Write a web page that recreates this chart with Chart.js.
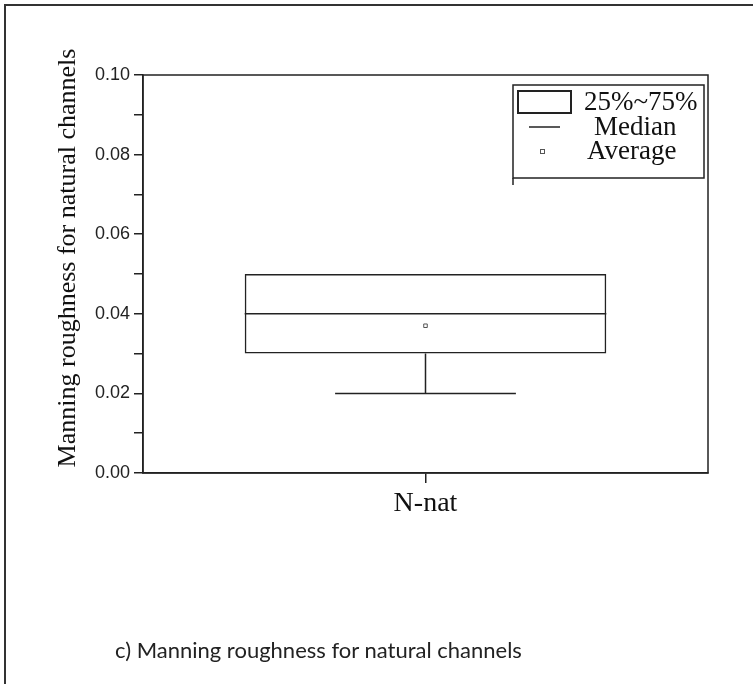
<!DOCTYPE html>
<html>
<head>
<meta charset="utf-8">
<script src="https://cdn.jsdelivr.net/npm/chart.js@4"></script>
<style>
  body { margin: 0; background: #fff; }
  #wrap { position: relative; width: 753px; height: 684px; }
  #frame { position: absolute; left: 4px; top: 4px; width: 749px; height: 680px;
           border-top: 2px solid #333; border-left: 2px solid #333; box-sizing: border-box; }
  #caption { position: absolute; left: 115px; top: 636px; font-family: Lato, "Open Sans", sans-serif;
             font-size: 22px; color: #222; }
</style>
</head>
<body>
<div id="wrap">
  <canvas id="chart"></canvas>
  <div id="frame"></div>
  <div id="caption">c) Manning roughness for natural channels</div>
</div>
<script>
// box plot values
var categories = ['N-nat'];
var q1 = [0.03];
var q3 = [0.05];
var medians = [0.04];
var whiskerLow = [0.02];
var whiskerHigh = [0.05];
var means = [0.037];
var yMin = 0, yMax = 0.10, yStep = 0.01;

var legendItems = ['25%~75%', 'Median', 'Average'];
var yTitle = 'Manning roughness for natural channels';
var lineColor = '#222';

var boxParts = {
  id: 'boxParts',
  afterDatasetsDraw: function(chart) {
    var ctx = chart.ctx;
    var y = chart.scales.y;
    var meta = chart.getDatasetMeta(0);
    ctx.save();
    ctx.strokeStyle = lineColor;
    ctx.lineWidth = 1.5;
    meta.data.forEach(function(bar, i) {
      var half = bar.width / 2;
      var ym = y.getPixelForValue(medians[i]);
      ctx.beginPath();
      ctx.moveTo(bar.x - half, ym);
      ctx.lineTo(bar.x + half, ym);
      // lower whisker
      var yq1 = y.getPixelForValue(q1[i]);
      var ylo = y.getPixelForValue(whiskerLow[i]);
      ctx.moveTo(bar.x, yq1);
      ctx.lineTo(bar.x, ylo);
      ctx.moveTo(bar.x - half / 2, ylo);
      ctx.lineTo(bar.x + half / 2, ylo);
      // upper whisker, only if above the box
      if (whiskerHigh[i] > q3[i]) {
        var yq3 = y.getPixelForValue(q3[i]);
        var yhi = y.getPixelForValue(whiskerHigh[i]);
        ctx.moveTo(bar.x, yq3);
        ctx.lineTo(bar.x, yhi);
        ctx.moveTo(bar.x - half / 2, yhi);
        ctx.lineTo(bar.x + half / 2, yhi);
      }
      ctx.stroke();
    });
    ctx.restore();
  },
  afterDraw: function(chart) {
    var ctx = chart.ctx;
    var a = chart.chartArea;
    ctx.save();
    // plot frame
    ctx.strokeStyle = lineColor;
    ctx.lineWidth = 1.5;
    ctx.strokeRect(a.left, a.top, a.right - a.left, a.bottom - a.top);

    // y title
    ctx.fillStyle = '#111';
    ctx.font = '26px "Liberation Serif", serif';
    ctx.textAlign = 'center';
    ctx.textBaseline = 'middle';
    ctx.translate(68, 258);
    ctx.rotate(-Math.PI / 2);
    ctx.fillText(yTitle, 0, 0);
    ctx.setTransform(1, 0, 0, 1, 0, 0);

    // legend
    ctx.lineWidth = 1.5;
    ctx.strokeRect(513, 85, 191, 93);
    ctx.beginPath();
    ctx.moveTo(513, 178);
    ctx.lineTo(513, 185);
    ctx.stroke();
    ctx.lineWidth = 2;
    ctx.strokeRect(518, 91, 53, 22);
    ctx.lineWidth = 1.5;
    ctx.beginPath();
    ctx.moveTo(529, 127);
    ctx.lineTo(560, 127);
    ctx.stroke();
    ctx.lineWidth = 1;
    ctx.strokeStyle = '#555';
    ctx.strokeRect(540.5, 149.5, 4, 4);
    ctx.font = '27px "Liberation Serif", serif';
    ctx.textAlign = 'left';
    ctx.fillText(legendItems[0], 584, 103);
    ctx.fillText(legendItems[1], 594, 128);
    ctx.fillText(legendItems[2], 587, 152);
    ctx.restore();
  }
};

var ctx = document.getElementById('chart').getContext('2d');
var chart = new Chart(ctx, {
  type: 'bar',
  data: {
    labels: categories,
    datasets: [{
      type: 'bar',
      data: categories.map(function(c, i) { return [q1[i], q3[i]]; }),
      backgroundColor: 'rgba(255,255,255,0)',
      borderColor: lineColor,
      borderWidth: 1.5,
      borderSkipped: false,
      barPercentage: 0.8,
      categoryPercentage: 0.8,
      order: 2
    }, {
      type: 'line',
      data: means,
      showLine: false,
      pointStyle: 'rect',
      pointRadius: 2.5,
      borderWidth: 1,
      borderColor: '#555',
      backgroundColor: 'rgba(0,0,0,0)',
      order: 1
    }]
  },
  options: {
    responsive: true,
    maintainAspectRatio: false,
    animation: false,
    layout: { padding: { top: 75, right: 45, left: 0, bottom: 0 } },
    plugins: { legend: { display: false }, tooltip: { enabled: false } },
    scales: {
      x: {
        grid: { drawOnChartArea: false, offset: false, tickLength: 10, color: lineColor, lineWidth: 1.5 },
        border: { display: true, color: lineColor, width: 1.5 },
        ticks: { color: '#111', padding: 4, font: { family: '"Liberation Serif", serif', size: 28 } },
        afterFit: function(scale) { scale.height = 211; }
      },
      y: {
        min: yMin,
        max: yMax,
        grid: { drawOnChartArea: false, tickLength: 9, color: lineColor, lineWidth: 1.5 },
        border: { display: true, color: lineColor, width: 1.5 },
        ticks: {
          stepSize: yStep,
          color: '#222',
          padding: 4,
          font: { family: '"Liberation Sans", Arial, sans-serif', size: 18 },
          callback: function(v) { return Math.round(v * 100) % 2 === 0 ? v.toFixed(2) : ''; }
        },
        afterFit: function(scale) { scale.width = 143; }
      }
    }
  },
  plugins: [boxParts]
});
</script>
</body>
</html>
